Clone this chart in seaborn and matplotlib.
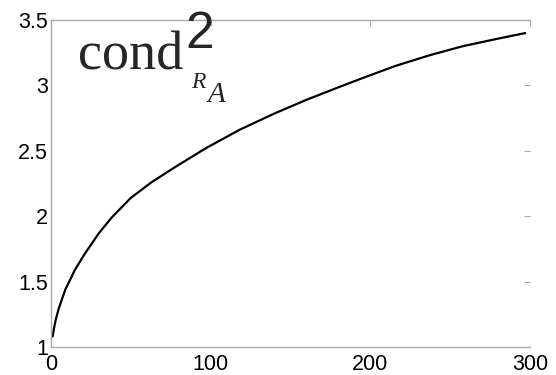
import matplotlib
matplotlib.use("Agg")
import matplotlib.pyplot as plt
import seaborn as sns
import pandas as pd

# values
x_vals = [1, 2, 3, 5, 9, 15, 21, 30, 38, 50, 63, 77, 97, 118, 139,
          160, 181, 196, 216, 237, 258, 279, 297]
y_vals = [1.08, 1.15, 1.21, 1.30, 1.44, 1.59, 1.71, 1.87, 1.99, 2.14, 2.26,
          2.37, 2.52, 2.66, 2.78, 2.89, 2.99, 3.06, 3.15, 3.23, 3.30, 3.355, 3.40]
x_ticks = [0, 100, 200, 300]
y_ticks = [1, 1.5, 2, 2.5, 3, 3.5]
y_tick_labels = ["1", "1.5", "2", "2.5", "3", "3.5"]

df = pd.DataFrame({"x": x_vals, "y": y_vals})

sns.set_style("white")
plt.rcParams["font.family"] = ["Liberation Sans", "DejaVu Sans"]

fig = plt.figure(figsize=(5.56, 3.75), dpi=100)
ax = fig.add_axes([51 / 556, 1 - 347 / 375, 479 / 556, 327 / 375])

sns.lineplot(data=df, x="x", y="y", ax=ax, color="black", linewidth=1.6)

ax.set_xlim(0, 300)
ax.set_ylim(1, 3.5)
ax.set_xticks(x_ticks)
ax.set_xticklabels([str(t) for t in x_ticks])
ax.set_yticks(y_ticks)
ax.set_yticklabels(y_tick_labels)
ax.set_xlabel("")
ax.set_ylabel("")

ax.tick_params(direction="in", top=True, right=True, length=4, width=0.8,
               color="#aaaaaa", labelsize=15.5, labelcolor="black")
ax.tick_params(axis="x", pad=5)
ax.tick_params(axis="y", pad=2)
for side in ["left", "bottom", "top"]:
    ax.spines[side].set_color("#aaaaaa")
    ax.spines[side].set_linewidth(1)
ax.spines["right"].set_visible(False)

# label: cond^2 with subscript R_A
ax.text(17, 3.118, "cond", fontsize=39, family="Liberation Serif", va="baseline")
ax.text(84, 3.286, "2", fontsize=37, family="Liberation Sans", va="baseline")
ax.text(88, 2.98, "R", fontsize=17, family="Liberation Serif", style="italic", va="baseline")
ax.text(98, 2.873, "A", fontsize=21, family="Liberation Serif", style="italic", va="baseline")

fig.savefig("out.png", dpi=100)
